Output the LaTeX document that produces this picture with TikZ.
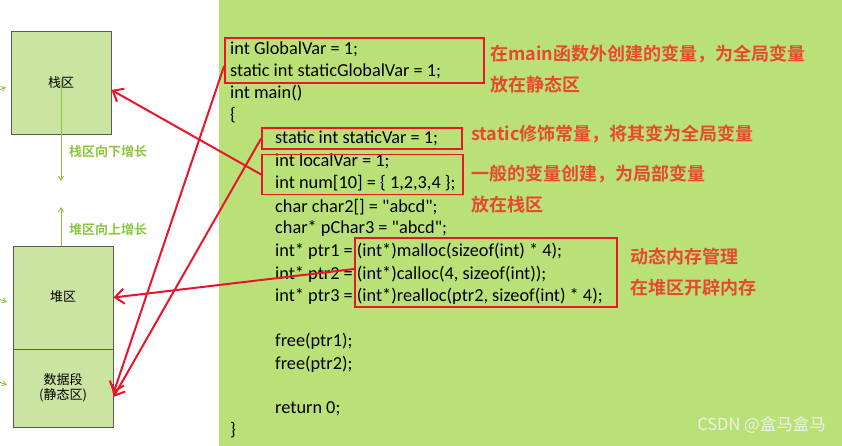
\documentclass[tikz,border=0pt]{standalone}
\usepackage{fontspec}
\setmainfont{Carlito}
\newfontfamily\codef{Carlito}
\newfontfamily\cjk{Noto Sans CJK SC}
\newfontfamily\cjkb{Noto Sans CJK SC Bold}
\usetikzlibrary{arrows.meta,calc}
\definecolor{panel}{RGB}{185,225,120}
\definecolor{boxfill}{RGB}{204,228,162}
\definecolor{boxline}{RGB}{90,90,90}
\definecolor{redline}{RGB}{232,22,42}
\definecolor{note}{RGB}{232,72,45}
\definecolor{growg}{RGB}{140,198,63}
\definecolor{wm}{RGB}{238,242,230}
\tikzset{
  memblock/.style={draw=boxline,line width=1pt,fill=boxfill,inner sep=0pt},
  memlabel/.style={font=\cjk\fontsize{13}{15}\selectfont,align=center,inner sep=0pt},
  codeline/.style={font=\codef\fontsize{18.3}{18.3}\selectfont,anchor=base west,inner sep=0pt},
  notetext/.style={font=\cjkb\fontsize{18}{18}\selectfont,text=note,anchor=west,inner sep=0pt},
  redbox/.style={draw=redline,line width=1.8pt,inner sep=0pt},
  redarrow/.style={draw=redline,line width=2pt,-{Straight Barb[length=9pt,width=15pt,line width=2pt]}},
  growarrow/.style={draw=growg,line width=0.9pt,-{Straight Barb[length=4pt,width=5pt]}},
  growtext/.style={font=\cjkb\fontsize{13}{15}\selectfont,text=growg,anchor=west,inner sep=0pt}
}
\begin{document}
\begin{tikzpicture}[x=1pt,y=-1pt]
\useasboundingbox (0,0) rectangle (842,446);
\fill[white] (0,0) rectangle (842,446);
\fill[panel] (219,0) rectangle (842,446);
% memory blocks
\node[memblock,minimum width=100pt,minimum height=103pt] (stack) at (61,83.5) {};
\node[memblock,minimum width=100pt,minimum height=103pt] (heap) at (63,297.5) {};
\node[memblock,minimum width=100pt,minimum height=78pt] (data) at (63,388) {};
% growth arrows
\coordinate (sdown) at (61,181);
\coordinate (hup) at (61,207);
\draw[growarrow] ([yshift=4pt]stack.center) -- (sdown);
\draw[growarrow] ([xshift=-2pt]heap.north) -- (hup);
\node[memlabel] (stacklbl) at (61,83) {栈区};
\node[memlabel] (heaplbl) at (63,297) {堆区};
\node[memlabel] (datalbl) at (63,388) {数据段\\(静态区)};
\node[growtext] (downtxt) at (69,152) {栈区向下增长};
\node[growtext] (uptxt) at (69,230) {堆区向上增长};
% left edge stubs
\coordinate (e1a) at (-1,90); \coordinate (e1b) at (6,87);
\coordinate (e2a) at (-1,299); \coordinate (e2b) at (7,302);
\coordinate (e3a) at (-1,382); \coordinate (e3b) at (7,385);
\draw[growarrow] (e1a) -- (e1b);
\draw[growarrow] (e2a) -- (e2b);
\draw[growarrow] (e3a) -- (e3b);
% code
\node[codeline] (c1) at (230,54.5) {int GlobalVar = 1;};
\node[codeline] (c2) at (230,77) {static int staticGlobalVar = 1;};
\node[codeline] (c3) at (230,99) {int main()};
\node[codeline] (c4) at (230,121) {\{};
\node[codeline] (c5) at (275,144) {static int staticVar = 1;};
\node[codeline] (c6) at (275,167) {int localVar = 1;};
\node[codeline] (c7) at (275,189) {int num[10] = \{ 1,2,3,4 \};};
\node[codeline] (c8) at (275,212) {char char2[] = "abcd";};
\node[codeline] (c9) at (275,233.5) {char* pChar3 = "abcd";};
\node[codeline] (c10) at (275,256) {int* ptr1 = (int*)malloc(sizeof(int) * 4);};
\node[codeline] (c11) at (275,279) {int* ptr2 = (int*)calloc(4, sizeof(int));};
\node[codeline] (c12) at (275,301) {int* ptr3 = (int*)realloc(ptr2, sizeof(int) * 4);};
\node[codeline] (c13) at (275,346) {free(ptr1);};
\node[codeline] (c14) at (275,369) {free(ptr2);};
\node[codeline] (c15) at (275,413) {return 0;};
\node[codeline] (c16) at (230,435) {\}};
% red boxes
\node[redbox,minimum width=259pt,minimum height=45pt] (g1) at (354.5,60.5) {};
\node[redbox,minimum width=200pt,minimum height=21pt] (g2) at (362,138.5) {};
\node[redbox,minimum width=201pt,minimum height=40pt] (g3) at (362.5,174.5) {};
\node[redbox,minimum width=262pt,minimum height=69pt] (g4) at (486,272.5) {};
% notes
\node[notetext] (n1) at (490,54) {在main函数外创建的变量，为全局变量};
\node[notetext] (n2) at (490,85) {放在静态区};
\node[notetext] (n3) at (471,134) {static修饰常量，将其变为全局变量};
\node[notetext] (n4) at (471,174) {一般的变量创建，为局部变量};
\node[notetext] (n5) at (471,205) {放在栈区};
\node[notetext] (n6) at (630,257) {动态内存管理};
\node[notetext] (n7) at (630,288) {在堆区开辟内存};
% red arrows
\draw[redarrow] ([yshift=-5.5pt]g1.west) -- ([yshift=-5pt]data.east);
\draw[redarrow] (g2.west) -- ([yshift=-9pt]data.east);
\draw[redarrow] (g3.west) -- ([yshift=-6.5pt]stack.east);
\draw[redarrow] ([yshift=3.5pt]g4.west) -- (heap.east);
% watermark
\node[font=\cjk\fontsize{16.5}{16.5}\selectfont,text=wm,anchor=east,inner sep=0pt] (wmark) at (826,425) {CSDN @盒马盒马};
\end{tikzpicture}
\end{document}
